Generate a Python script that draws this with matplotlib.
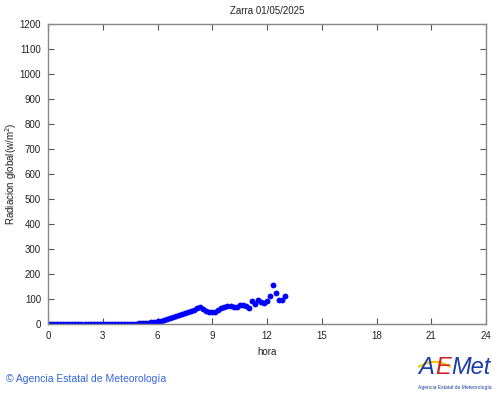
import matplotlib
matplotlib.use("Agg")
import matplotlib.pyplot as plt
import numpy as np

plt.rcParams['font.family'] = ['Liberation Sans', 'DejaVu Sans']

# Data: 10-minute samples (hours), global radiation (W/m2)
early_hours = [i / 6 for i in range(0, 30)]          # 0.0 .. 4.83
early_vals = [2] * 30
hours_mid = [5.0, 5.167, 5.333, 5.5, 5.667, 5.833, 6.0, 6.167, 6.333, 6.5, 6.667, 6.833,
             7.0, 7.167, 7.333, 7.5, 7.667, 7.833, 8.0, 8.167, 8.333, 8.5, 8.667, 8.833,
             9.0, 9.167, 9.333, 9.5, 9.667, 9.833, 10.0, 10.167, 10.333, 10.5, 10.667, 10.833,
             11.0, 11.167, 11.333, 11.5, 11.667, 11.833, 12.0, 12.167, 12.333, 12.5, 12.667,
             12.833, 13.0]
vals_mid = [4, 5, 5, 6, 7, 9, 11, 13, 16, 19, 23, 27,
            31, 37, 42, 45, 49, 54, 58, 64, 68, 62, 53, 48,
            49, 50, 56, 63, 68, 74, 72, 70, 67, 76, 75, 72,
            66, 93, 79, 97, 90, 84, 92, 113, 157, 125, 95,
            98, 113]
hours = early_hours + hours_mid
values = early_vals + vals_mid

xticks = [0, 3, 6, 9, 12, 15, 18, 21, 24]
yticks = list(range(0, 1201, 100))

fig = plt.figure(figsize=(5.0, 3.95), dpi=100)
ax = fig.add_axes([0.096, 0.1797, 0.876, 0.7595])
ax.plot(hours, values, 'o', color='#0000ff', markersize=4.2, markeredgewidth=0)
ax.set_xlim(0, 24)
ax.set_ylim(0, 1200)
ax.set_xticks(xticks)
ax.set_yticks(yticks)
ax.tick_params(direction='in', top=True, right=True, labelsize=7, length=4,
               width=0.8, color='#555555', pad=5, labelcolor='#222222')
for s in ax.spines.values():
    s.set_color('#888888')
    s.set_linewidth(1.0)
ax.set_xlabel('hora', fontsize=7, color='#222222', labelpad=4)
ax.set_ylabel('Radiacion global(w/m$^2$)', fontsize=7, color='#222222')
ax.yaxis.label.set_va('center')
ax.yaxis.set_label_coords(-0.084, 0.5)
ax.set_title('Zarra 01/05/2025', fontsize=7, color='#222222', pad=7)

fig.text(0.012, 0.028, '\u00a9 Agencia Estatal de Meteorolog\u00eda', fontsize=7.5,
         color='#3366dd', ha='left', va='bottom')

# AEMet logo (text approximation)
fig.text(0.836, 0.040, 'A', fontsize=17, color='#1a3da8', ha='left', va='bottom', style='italic')
fig.text(0.870, 0.040, 'E', fontsize=17, color='#cc2222', ha='left', va='bottom', style='italic')
fig.text(0.903, 0.040, 'Met', fontsize=17, color='#1a3da8', ha='left', va='bottom', style='italic')
fig.text(0.835, 0.012, 'Agencia Estatal de Meteorolog\u00eda', fontsize=3.6,
         color='#1a3da8', ha='left', va='bottom')
xs = np.linspace(0.838, 0.90, 30)
ys = 0.072 + 0.012 * np.sin((xs - 0.838) / 0.062 * np.pi)
fig.add_artist(plt.Line2D(xs, ys, color='#f5c400', lw=1.5, transform=fig.transFigure))

fig.savefig('out.png', dpi=100)
